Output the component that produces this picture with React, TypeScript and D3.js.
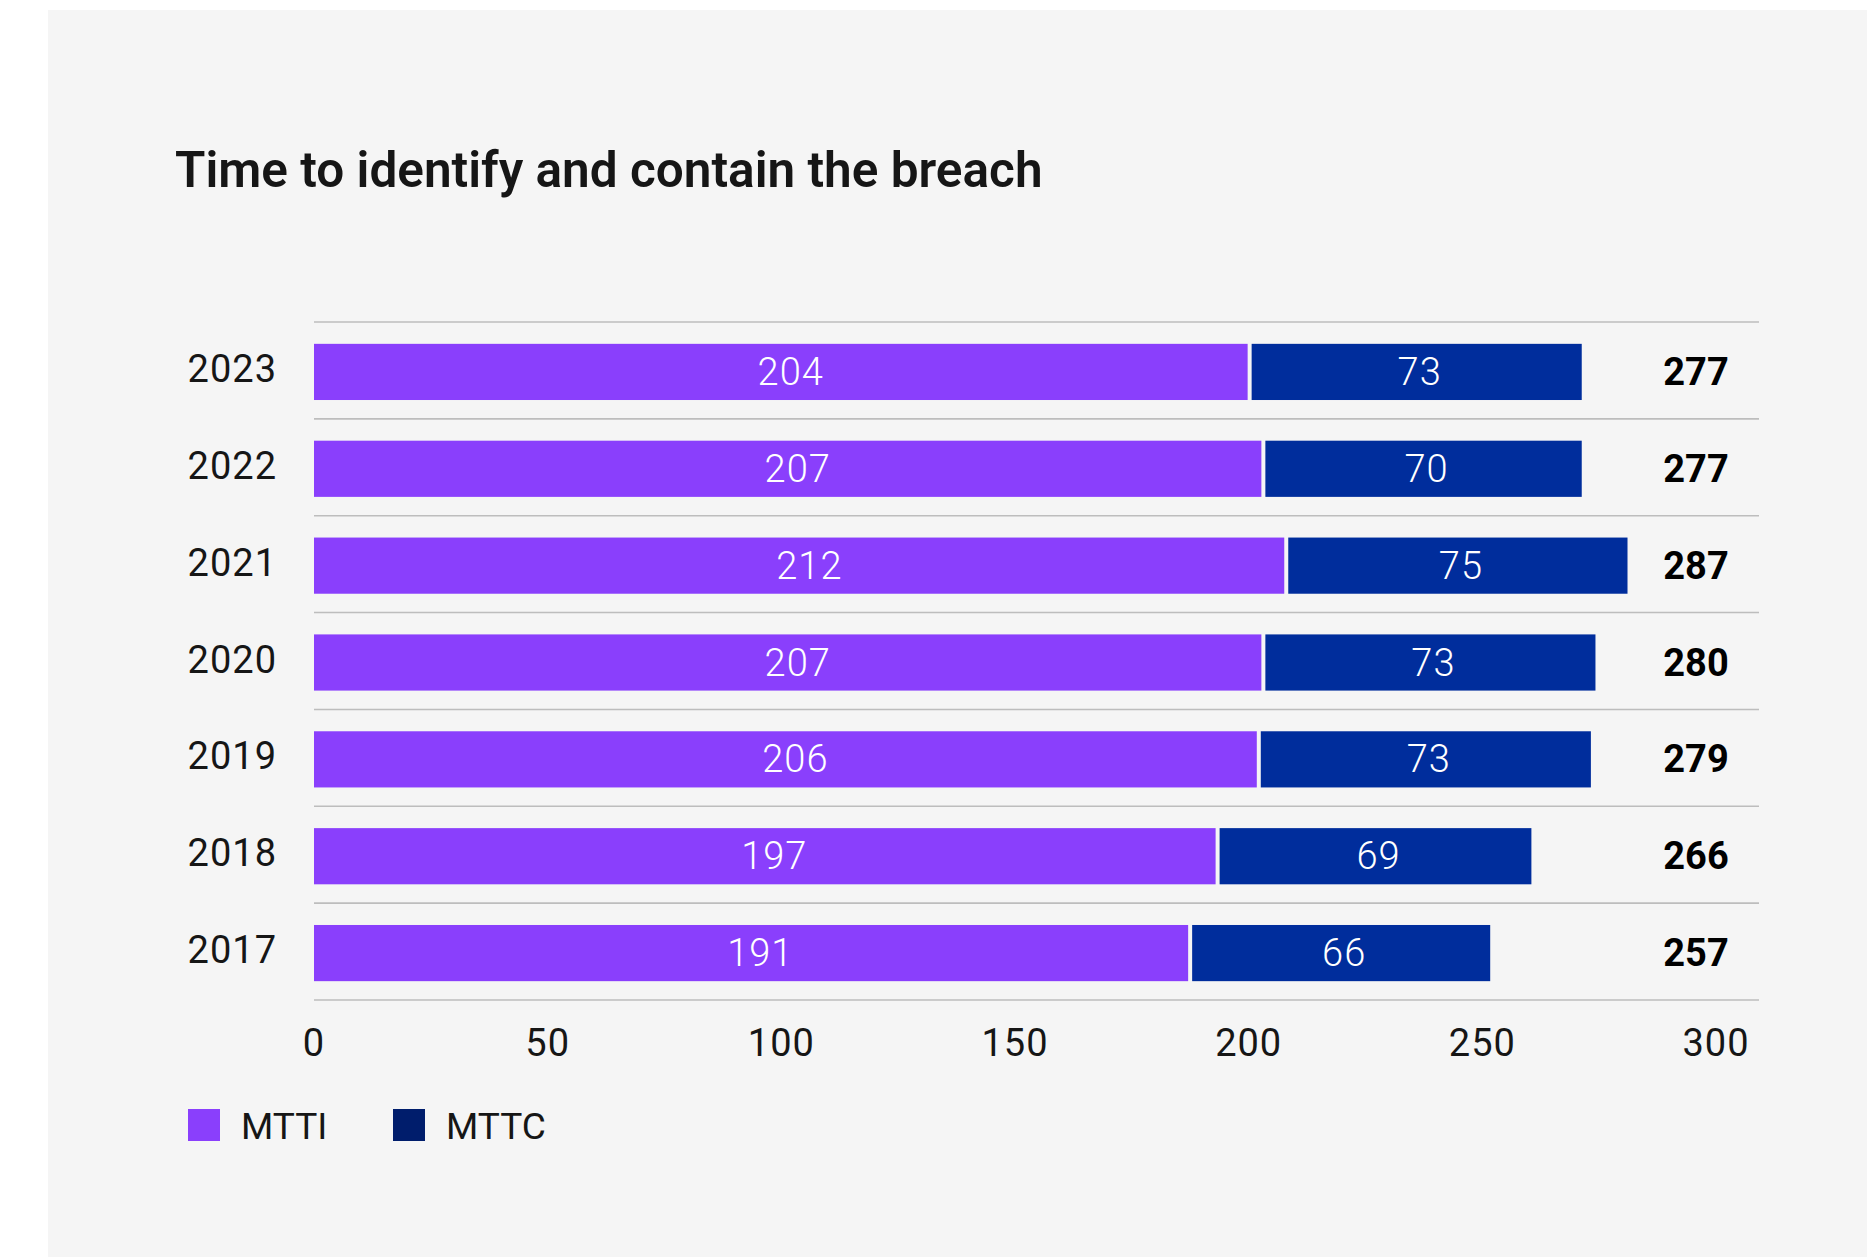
import * as d3 from 'd3';

const YEARS = ['2023', '2022', '2021', '2020', '2019', '2018', '2017'];
const MTTI = [204, 207, 212, 207, 206, 197, 191];
const MTTC = [73, 70, 75, 73, 73, 69, 66];
const TOTALS = [277, 277, 287, 280, 279, 266, 257];
const X_TICKS = [0, 50, 100, 150, 200, 250, 300];
const SERIES = ['MTTI', 'MTTC'];

const W = 1871;
const H = 1257;
const FONT = 'Roboto, "Noto Sans", "Liberation Sans", sans-serif';
const PURPLE = '#8a3ffc';
const BLUE = '#002d9c';
const BLUE_LEGEND = '#001d6c';
const INK = '#161616';
const LEGEND_COLOURS = [PURPLE, BLUE_LEGEND];

// axis labels sit on a slightly wider scale than the bars in the source image
const xAxis = d3.scaleLinear().domain([0, 300]).range([314, 1716]);
const xBar = d3.scaleLinear().domain([0, 300]).range([314, 1687]);
const y = d3.scaleBand<string>().domain(YEARS).range([322, 1000]).paddingInner(0.42).paddingOuter(0.21);
const step = y.step();

export default function App() {
  const bw = y.bandwidth();
  return (
    <div style={{ position: 'absolute', left: 0, top: 0 }}>
      <svg width={W} height={H} style={{ display: 'block', fontFamily: FONT }}>
        <rect x={0} y={0} width={W} height={H} fill="#ffffff" />
        <rect x={48} y={10} width={1819} height={H - 10} fill="#f5f5f5" />

        <text x={175} y={187} fontSize={49.5} fontWeight={600} fill={INK}>
          Time to identify and contain the breach
        </text>

        {/* row separators */}
        {d3.range(YEARS.length + 1).map((i) => (
          <line
            key={i}
            x1={314}
            x2={1759}
            y1={322 + i * step}
            y2={322 + i * step}
            stroke="#bdbdbd"
            strokeWidth={1.6}
          />
        ))}

        {YEARS.map((yr, i) => {
          const top = (y(yr) ?? 0) + 1.5;
          const cy = top + bw / 2;
          const a = MTTI[i];
          const c = MTTC[i];
          return (
            <g key={yr}>
              <text x={277} y={cy + 10} textAnchor="end" fontSize={38} letterSpacing={1} fill={INK}>
                {yr}
              </text>
              <rect x={xBar(0)} y={top} width={xBar(a) - xBar(0)} height={bw} fill={PURPLE} />
              <rect x={xBar(a) + 4} y={top} width={xBar(a + c) - xBar(a) - 4} height={bw} fill={BLUE} />
              <text x={xAxis(a / 2)} y={cy + 13} textAnchor="middle" fontSize={38} letterSpacing={1} fontWeight={300} fill="#ffffff">
                {a}
              </text>
              <text x={(xBar(a) + 4 + xBar(a + c)) / 2 + 3} y={cy + 13} textAnchor="middle" fontSize={38} letterSpacing={1} fontWeight={300} fill="#ffffff">
                {c}
              </text>
              <text x={1696} y={cy + 13} textAnchor="middle" fontSize={38} fontWeight={700} fill="#000000">
                {TOTALS[i]}
              </text>
            </g>
          );
        })}

        {X_TICKS.map((t) => (
          <text key={t} x={xAxis(t)} y={1056} textAnchor="middle" fontSize={38} letterSpacing={1} fill={INK}>
            {t}
          </text>
        ))}

        {SERIES.map((s, i) => {
          const x0 = 188 + i * 205;
          return (
            <g key={s}>
              <rect x={x0} y={1109} width={32} height={32} fill={LEGEND_COLOURS[i]} />
              <text x={x0 + 53} y={1139} fontSize={37} fill={INK}>
                {s}
              </text>
            </g>
          );
        })}
      </svg>
    </div>
  );
}
